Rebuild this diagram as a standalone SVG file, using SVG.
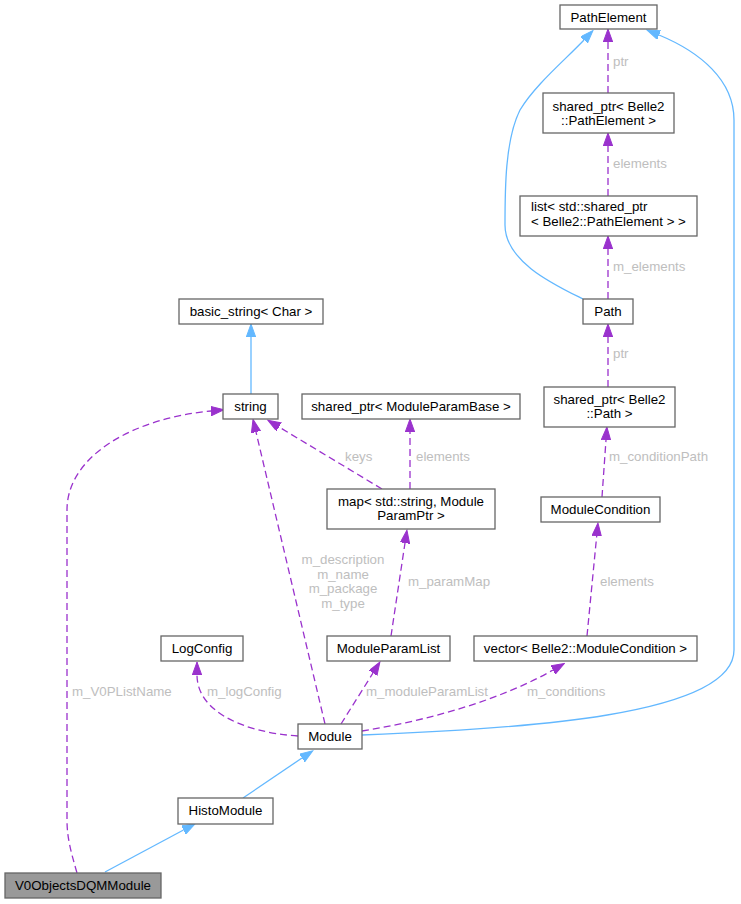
<svg xmlns="http://www.w3.org/2000/svg" width="741" height="904" viewBox="0 0 741 904">
<style>
.n rect{fill:#ffffff;stroke:#666666;stroke-width:1.3}
.n text{font-family:"Liberation Sans",Arial,sans-serif;font-size:13.3px;fill:#000000;text-anchor:middle}
.n text.l{text-anchor:start}
.e path{fill:none;stroke-width:1.3}
.inh{stroke:#63b8ff;marker-end:url(#ab)}
.use{stroke:#9a32cd;stroke-dasharray:7,4;marker-end:url(#ap)}
.lbl{font-family:"Liberation Sans",Arial,sans-serif;font-size:13.3px;fill:#bebebe}
</style>
<defs>
<marker id="ab" markerUnits="userSpaceOnUse" markerWidth="14" markerHeight="10" refX="0" refY="4.7" orient="auto"><path d="M0,0 L13,4.7 L0,9.4 z" fill="#63b8ff" stroke="#63b8ff" stroke-width="1"/></marker>
<marker id="ap" markerUnits="userSpaceOnUse" markerWidth="14" markerHeight="10" refX="0" refY="4.7" orient="auto"><path d="M0,0 L13,4.7 L0,9.4 z" fill="#9a32cd" stroke="#9a32cd" stroke-width="1"/></marker>
</defs>
<rect width="741" height="904" fill="#ffffff"/>
<g id="edges" class="e">
<path class="inh" d="M251,394 L251,337"/>
<path class="inh" d="M243,798 L302,758"/>
<path class="inh" d="M105,872 L183.5,830"/>
<path class="inh" d="M362,735 C520,729 734,716 734,650 L734,120 C734,80 700,52 659,35"/>
<path class="inh" d="M583,299 C555,285 505,262 505,225 C505,190 505,140 520,110 C535,85 565,60 584,40"/>
<path class="use" d="M608,93 L608,42"/>
<path class="use" d="M608,196 L608,146"/>
<path class="use" d="M608,299 L608,249"/>
<path class="use" d="M608,387 L608,337"/>
<path class="use" d="M602,497 L606,440"/>
<path class="use" d="M587,636 L596.7,536"/>
<path class="use" d="M362,731 C430,720 500,700 553,670"/>
<path class="use" d="M341,724 L373,673"/>
<path class="use" d="M391,636 L405,543"/>
<path class="use" d="M410,489 L410,432"/>
<path class="use" d="M382,489 L279,427"/>
<path class="use" d="M325,724 L256,432"/>
<path class="use" d="M298,736 C240,732 197,710 197,675"/>
<path class="use" d="M77,873 C71,852 67,838 67,820 L67,510 C67,455 135,418 211,411"/>
<text class="lbl" x="613" y="66">ptr</text>
<text class="lbl" x="613" y="168">elements</text>
<text class="lbl" x="613" y="271">m_elements</text>
<text class="lbl" x="613" y="358">ptr</text>
<text class="lbl" x="609" y="461">m_conditionPath</text>
<text class="lbl" x="600" y="586">elements</text>
<text class="lbl" x="408" y="586">m_paramMap</text>
<text class="lbl" x="527" y="696">m_conditions</text>
<text class="lbl" x="366" y="696">m_moduleParamList</text>
<text class="lbl" x="343" y="564" text-anchor="middle">m_description</text>
<text class="lbl" x="343" y="578.5" text-anchor="middle">m_name</text>
<text class="lbl" x="343" y="593" text-anchor="middle">m_package</text>
<text class="lbl" x="343" y="607.5" text-anchor="middle">m_type</text>
<text class="lbl" x="345" y="461">keys</text>
<text class="lbl" x="416" y="461">elements</text>
<text class="lbl" x="207" y="696">m_logConfig</text>
<text class="lbl" x="72" y="696">m_V0PListName</text>
</g>
<g id="PathElement" class="n"><rect x="560" y="5" width="97" height="24"/><text x="608.5" y="22">PathElement</text></g>
<g id="SharedPtrPathElement" class="n"><rect x="543" y="93" width="131" height="40"/><text x="608.5" y="110.5">shared_ptr&lt; Belle2</text><text x="608.5" y="124.5">::PathElement &gt;</text></g>
<g id="ListSharedPtr" class="n"><rect x="520" y="196" width="177" height="40"/><text class="l" x="531" y="211">list&lt; std::shared_ptr</text><text class="l" x="531" y="226">&lt; Belle2::PathElement &gt; &gt;</text></g>
<g id="Path" class="n"><rect x="583" y="299" width="50" height="25"/><text x="608" y="316">Path</text></g>
<g id="BasicString" class="n"><rect x="179" y="299" width="144" height="25"/><text x="251" y="316">basic_string&lt; Char &gt;</text></g>
<g id="String" class="n"><rect x="223" y="394" width="55" height="25"/><text x="250.5" y="411">string</text></g>
<g id="SharedPtrModuleParamBase" class="n"><rect x="302" y="394" width="218" height="25"/><text x="411" y="411">shared_ptr&lt; ModuleParamBase &gt;</text></g>
<g id="SharedPtrPath" class="n"><rect x="544" y="387" width="131" height="40"/><text x="609.5" y="403.5">shared_ptr&lt; Belle2</text><text x="609.5" y="417.5">::Path &gt;</text></g>
<g id="Map" class="n"><rect x="327" y="489" width="168" height="40"/><text x="411" y="505.5">map&lt; std::string, Module</text><text x="411" y="520">ParamPtr &gt;</text></g>
<g id="ModuleCondition" class="n"><rect x="541" y="497" width="119" height="25"/><text x="600.5" y="514">ModuleCondition</text></g>
<g id="LogConfig" class="n"><rect x="161" y="636" width="82" height="25"/><text x="202" y="653">LogConfig</text></g>
<g id="ModuleParamList" class="n"><rect x="327" y="636" width="123" height="25"/><text x="388.5" y="653">ModuleParamList</text></g>
<g id="VectorModuleCondition" class="n"><rect x="474" y="636" width="223" height="25"/><text x="585.5" y="653">vector&lt; Belle2::ModuleCondition &gt;</text></g>
<g id="Module" class="n"><rect x="298" y="724" width="64" height="25"/><text x="330" y="741">Module</text></g>
<g id="HistoModule" class="n"><rect x="178" y="798" width="95" height="26"/><text x="225.5" y="815">HistoModule</text></g>
<g id="V0ObjectsDQMModule" class="n"><rect x="5" y="873" width="156" height="25" style="fill:#999999"/><text x="83" y="890">V0ObjectsDQMModule</text></g>
</svg>
